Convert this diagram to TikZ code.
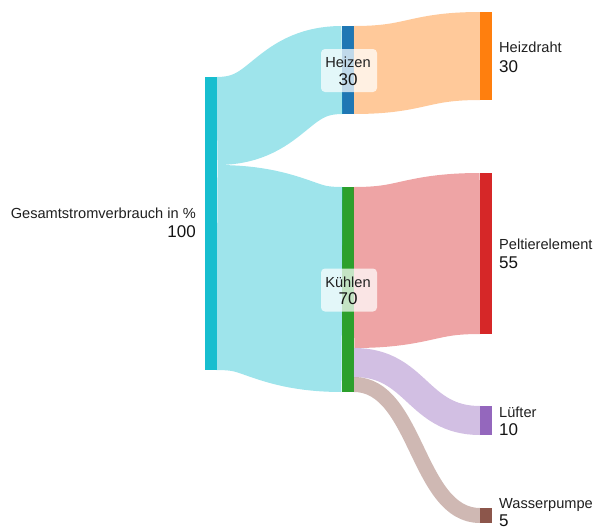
\documentclass[tikz,border=0pt]{standalone}
\usepackage{fontspec}
\setmainfont{Liberation Sans}
\usetikzlibrary{calc}

% node colours
\definecolor{cSrc}{HTML}{17BECF}
\definecolor{cHeat}{HTML}{1F77B4}
\definecolor{cCool}{HTML}{2CA02C}
\definecolor{cWire}{HTML}{FF7F0E}
\definecolor{cPelt}{HTML}{D62728}
\definecolor{cFan}{HTML}{9467BD}
\definecolor{cPump}{HTML}{8C564B}

\begin{document}
\begin{tikzpicture}[x=1pt,y=-1pt,
  bar/.style 2 args={fill=#1, draw=none, inner sep=0pt, outer sep=0pt,
                     minimum width=12pt, minimum height=#2},
  band/.style n args={3}{draw=#1, draw opacity=0.42, line width=#2,
                         line cap=butt, out=0, in=180,
                         out distance=#3, in distance=#3},
  nm/.style={inner sep=0pt, font=\fontsize{14.6}{16}\selectfont, text=black!88},
  num/.style={inner sep=0pt, font=\fontsize{17}{19}\selectfont, text=black!92},
  tagbox/.style={fill=white, fill opacity=0.72, draw=none, rounded corners=4pt,
                 minimum width=56pt, minimum height=43pt, inner sep=0pt}]
\useasboundingbox (0,0) rectangle (597,530);

% ---- nodes (value 1 = 2.93 px) ----
\node[bar={cSrc}{293pt}]  (src)  at (211,223.5) {};
\node[bar={cHeat}{88pt}]  (heat) at (348,70)    {};
\node[bar={cCool}{205pt}] (cool) at (348,289.5) {};
\node[bar={cWire}{88pt}]  (wire) at (486,56)    {};
\node[bar={cPelt}{161pt}] (pelt) at (486,253.5) {};
\node[bar={cFan}{29pt}]   (fan)  at (486,420.5) {};
\node[bar={cPump}{15pt}]  (pump) at (486,515.5) {};

% ---- flows ----
\draw[band={cSrc}{88pt}{62.5pt}]  ([yshift=-44pt]src.north east) to (heat.west);
\draw[band={cSrc}{205pt}{62.5pt}] ([yshift=-190.5pt]src.north east) to (cool.west);
\draw[band={cWire}{88pt}{63pt}]   (heat.east) to (wire.west);
\draw[band={cPelt}{161pt}{63pt}]  ([yshift=-80.5pt]cool.north east) to (pelt.west);
\draw[band={cFan}{29pt}{63pt}]    ([yshift=-175.5pt]cool.north east) to (fan.west);
\draw[band={cPump}{15pt}{63pt}]   ([yshift=-197.5pt]cool.north east) to (pump.west);

% ---- labels of the middle nodes ----
\node[tagbox] (heatbox) at (349,70.5) {};
\node[nm, anchor=base]  (heatname) at (348,67) {Heizen};
\node[num, anchor=base] (heatval)  at (348,85) {30};
\node[tagbox] (coolbox) at (349,290) {};
\node[nm, anchor=base]  (coolname) at (348,287.5) {Kühlen};
\node[num, anchor=base] (coolval)  at (348,304) {70};

% ---- labels of the outer nodes ----
\node[nm, anchor=base east]  (srcname) at (196,218) {Gesamtstromverbrauch in \%};
\node[num, anchor=base east] (srcval)  at (196,237) {100};
\node[nm, anchor=base west]  (wirename) at (499,52)  {Heizdraht};
\node[num, anchor=base west] (wireval)  at (499,72)  {30};
\node[nm, anchor=base west]  (peltname) at (499,249) {Peltierelement};
\node[num, anchor=base west] (peltval)  at (499,268) {55};
\node[nm, anchor=base west]  (fanname)  at (499,417) {Lüfter};
\node[num, anchor=base west] (fanval)   at (499,435) {10};
\node[nm, anchor=base west]  (pumpname) at (499,508) {Wasserpumpe};
\node[num, anchor=base west] (pumpval)  at (499,526) {5};
\end{tikzpicture}
\end{document}
